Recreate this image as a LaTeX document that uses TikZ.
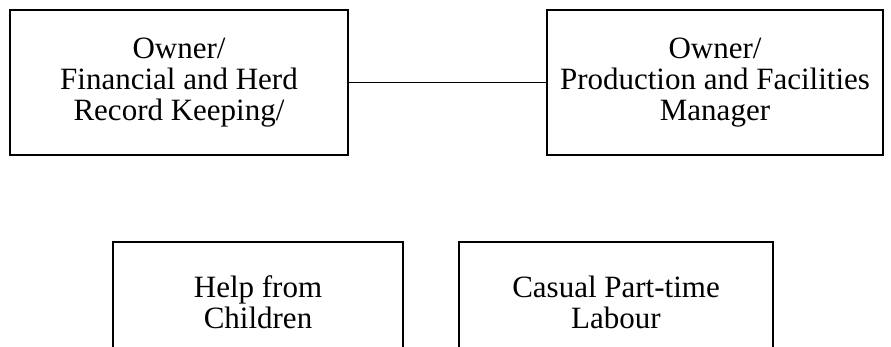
\documentclass[tikz,border=0pt]{standalone}
\usepackage{fontspec}
\setmainfont{Liberation Serif}
\usetikzlibrary{positioning}
\tikzset{
  role/.style = {draw, line width=1.4pt, align=center, inner sep=0pt,
                 font=\fontsize{31}{31}\selectfont},
  link/.style = {draw, line width=1.4pt}
}

\begin{document}
\begin{tikzpicture}[x=1pt, y=-1pt]
\useasboundingbox (0,0) rectangle (891,347);
% Owners
\node[role, minimum width=338pt, minimum height=145pt] (finance) at (179,82.5)
  {Owner/\\Financial and Herd\\Record Keeping/};
\node[role, minimum width=336pt, minimum height=145pt] (production) at (715,82.5)
  {Owner/\\Production and Facilities\\Manager};
\draw[link] (finance) -- (production);
% Helpers (cut off at the bottom)
\begin{scope}
  \clip (0,0) rectangle (891,347);
  \node[role, minimum width=290pt, minimum height=120pt] (children) at (258,302)
    {Help from\\Children};
  \node[role, minimum width=314pt, minimum height=120pt] (casual) at (616,302)
    {Casual Part-time\\Labour};
\end{scope}
\end{tikzpicture}
\end{document}
